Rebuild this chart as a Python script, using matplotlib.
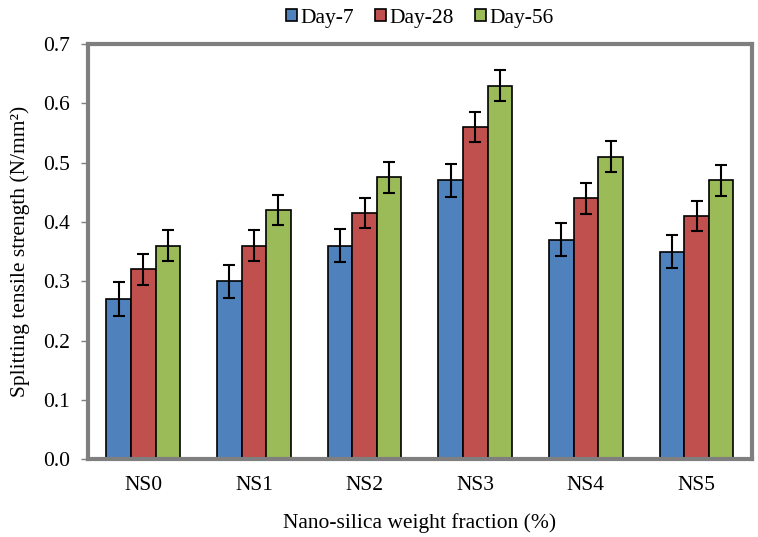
import matplotlib
matplotlib.use('Agg')
import matplotlib.pyplot as plt
import numpy as np

groups = ['NS0', 'NS1', 'NS2', 'NS3', 'NS4', 'NS5']
series = ['Day-7', 'Day-28', 'Day-56']
day7 = [0.27, 0.30, 0.36, 0.47, 0.37, 0.35]
day28 = [0.32, 0.36, 0.415, 0.56, 0.44, 0.41]
day56 = [0.36, 0.42, 0.475, 0.63, 0.51, 0.47]
err7 = [0.028, 0.028, 0.028, 0.028, 0.028, 0.028]
err28 = [0.026, 0.026, 0.026, 0.026, 0.026, 0.026]
err56 = [0.026, 0.026, 0.026, 0.026, 0.026, 0.026]
colors = ['#4F81BD', '#C0504D', '#9BBB59']

plt.rcParams['font.family'] = ['Liberation Serif', 'DejaVu Serif']
fs = 15.5

fig = plt.figure(figsize=(7.58, 5.37), dpi=100)
ax = fig.add_axes([0.116, 0.145, 0.876, 0.773])

x = np.arange(len(groups))
w = 0.222
vals = [day7, day28, day56]
errs = [err7, err28, err56]
for i in range(3):
	ax.bar(x + (i - 1) * w, vals[i], w, color=colors[i], edgecolor='black',
		linewidth=1.2, label=series[i], zorder=2)
	ax.errorbar(x + (i - 1) * w, vals[i], yerr=errs[i], fmt='none', ecolor='black',
		elinewidth=1.5, capsize=4, capthick=1.5, zorder=3)

ax.set_xlim(-0.5, 5.5)
ax.set_ylim(0, 0.7)
ax.set_yticks(np.arange(0, 0.71, 0.1))
ax.set_yticklabels([f'{v:.1f}' for v in np.arange(0, 0.71, 0.1)])
ax.set_xticks(x)
ax.set_xticklabels(groups)

for s in ax.spines.values():
	s.set_color('#7F7F7F')
	s.set_linewidth(3)
ax.tick_params(axis='y', direction='out', length=5, width=1, color='#7F7F7F', labelsize=fs, pad=8)
ax.tick_params(axis='x', length=0, labelsize=fs, pad=12)

ax.set_ylabel('Splitting tensile strength (N/mm²)', fontsize=fs, labelpad=9)
ax.set_xlabel('Nano-silica weight fraction (%)', fontsize=fs, labelpad=13)

fig.legend(loc='center', bbox_to_anchor=(0.554, 0.966), ncol=3, frameon=False,
	fontsize=fs, handlelength=0.5, handleheight=0.5, handletextpad=0.15, columnspacing=1.0)

fig.savefig('out.png', dpi=100)
